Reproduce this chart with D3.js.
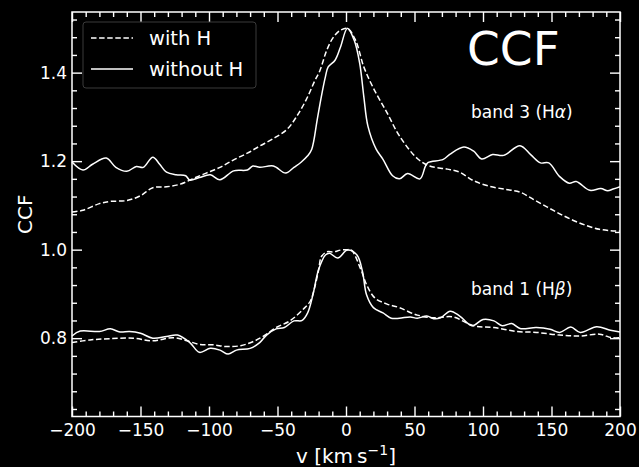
<!DOCTYPE html>
<html>
<head>
<meta charset="utf-8">
<script src="https://cdn.jsdelivr.net/npm/d3@7"></script>
<style>
  html, body { margin: 0; padding: 0; background: #000; }
  svg { display: block; }
  text { font-family: "DejaVu Sans", sans-serif; fill: #fff; }
</style>
</head>
<body>
<svg id="chart" width="639" height="467"></svg>
<script>
// Velocity grid (km/s) and CCF values per band and template
const vBand3NoH = [-200,-192,-185,-175,-168,-160,-153,-148,-141,-136,-131,-124,-117,-114,-107,-99,-92,-82,-72,-68,-63,-53,-44,-38,-33,-28,-25,-21,-18,-15,-13,-8,-4,1,6,10,13,16,22,27,34,39,45,54,58,60,71,76,86,93,99,107,115,127,135,142,148,156,163,168,178,186,191,195,200];
const ccfBand3NoH = [1.198,1.180,1.193,1.207,1.186,1.177,1.188,1.186,1.209,1.193,1.175,1.169,1.167,1.157,1.163,1.169,1.158,1.178,1.180,1.189,1.186,1.189,1.173,1.186,1.197,1.212,1.227,1.294,1.346,1.391,1.413,1.428,1.458,1.500,1.473,1.421,1.346,1.279,1.227,1.204,1.167,1.160,1.172,1.160,1.189,1.197,1.204,1.216,1.232,1.223,1.205,1.215,1.213,1.235,1.214,1.196,1.196,1.165,1.150,1.154,1.134,1.138,1.133,1.137,1.142];

const vBand3H = [-200,-192,-180,-172,-160,-150,-141,-131,-121,-112,-102,-92,-82,-72,-63,-53,-43,-36,-29,-23,-19,-14,-9,-4,1,7,13,20,30,39,52,61,74,83,93,105,117,127,137,147,156,166,176,185,193,200];
const ccfBand3H = [1.085,1.089,1.104,1.109,1.111,1.122,1.140,1.142,1.148,1.160,1.173,1.186,1.203,1.218,1.234,1.251,1.272,1.301,1.339,1.380,1.405,1.451,1.481,1.496,1.500,1.473,1.413,1.365,1.309,1.257,1.206,1.189,1.182,1.175,1.156,1.143,1.136,1.130,1.113,1.096,1.081,1.066,1.054,1.046,1.043,1.042];

const vBand1NoH = [-200,-194,-180,-172,-165,-158,-150,-141,-131,-123,-114,-107,-99,-92,-86,-80,-70,-63,-58,-51,-45,-38,-32,-28,-24,-20,-15,-12,-6,1,8,12,15,20,27,33,39,47,52,59,64,69,76,83,92,100,108,114,121,127,139,149,156,164,171,183,193,200];
const ccfBand1NoH = [0.805,0.816,0.815,0.821,0.814,0.815,0.811,0.800,0.804,0.807,0.790,0.768,0.777,0.773,0.764,0.773,0.777,0.790,0.807,0.821,0.824,0.839,0.840,0.857,0.900,0.955,0.988,0.992,0.981,0.999,0.988,0.951,0.898,0.869,0.857,0.845,0.845,0.848,0.845,0.850,0.844,0.846,0.861,0.850,0.828,0.842,0.839,0.828,0.833,0.822,0.824,0.820,0.813,0.825,0.813,0.826,0.818,0.814];

const vBand1H = [-200,-187,-172,-155,-141,-126,-116,-107,-97,-87,-77,-68,-60,-51,-41,-31,-26,-23,-20,-18,-14,-9,-4,1,4,11,15,21,30,39,52,64,78,93,108,125,139,156,171,185,194,200];
const ccfBand1H = [0.790,0.796,0.799,0.800,0.794,0.801,0.794,0.786,0.785,0.781,0.783,0.792,0.805,0.824,0.839,0.866,0.884,0.913,0.954,0.984,0.995,0.995,0.999,1.000,0.999,0.954,0.921,0.891,0.877,0.869,0.852,0.846,0.848,0.828,0.824,0.815,0.813,0.807,0.805,0.809,0.801,0.801];

const xTicks = [-200,-150,-100,-50,0,50,100,150,200];
const yTicks = [0.8,1.0,1.2,1.4];
const legendLabels = ["with H", "without H"];

const svg = d3.select("#chart");
const W = 639, H = 467;
svg.append("rect").attr("width", W).attr("height", H).attr("fill", "#000");

const mLeft = 72, mRight = 620, mTop = 12, mBottom = 416.5;
const x = d3.scaleLinear().domain([-200, 200]).range([mLeft, mRight]);
const y = d3.scaleLinear().domain([0.623, 1.537]).range([mBottom, mTop]);

const fmtY = d3.format(".1f");
const fmtX = d => (d < 0 ? "\u2212" + Math.abs(d) : String(d));

const xMinor = d3.range(-200, 201, 10).filter(v => !xTicks.includes(v));
const yMinor = d3.range(0.64, 1.53, 0.04).map(v => +v.toFixed(2)).filter(v => !yTicks.some(t => Math.abs(t - v) < 1e-6));

function styleAxis(g) {
  g.select(".domain").remove();
  g.selectAll(".tick line").attr("stroke", "#fff").attr("stroke-width", 1.4);
  g.selectAll(".tick text").attr("fill", "#fff").style("font-size", "17px").style("font-family", "DejaVu Sans");
}

// bottom
svg.append("g").attr("transform", `translate(0,${mBottom})`)
  .call(d3.axisBottom(x).tickValues(xTicks).tickFormat(fmtX).tickSize(-10).tickPadding(7)).call(styleAxis);
svg.append("g").attr("transform", `translate(0,${mBottom})`)
  .call(d3.axisBottom(x).tickValues(xMinor).tickFormat("").tickSize(-5)).call(styleAxis);
// top
svg.append("g").attr("transform", `translate(0,${mTop})`)
  .call(d3.axisTop(x).tickValues(xTicks).tickFormat("").tickSize(-10)).call(styleAxis);
svg.append("g").attr("transform", `translate(0,${mTop})`)
  .call(d3.axisTop(x).tickValues(xMinor).tickFormat("").tickSize(-5)).call(styleAxis);
// left
svg.append("g").attr("transform", `translate(${mLeft},0)`)
  .call(d3.axisLeft(y).tickValues(yTicks).tickFormat(fmtY).tickSize(-10).tickPadding(5)).call(styleAxis);
svg.append("g").attr("transform", `translate(${mLeft},0)`)
  .call(d3.axisLeft(y).tickValues(yMinor).tickFormat("").tickSize(-5)).call(styleAxis);
// right
svg.append("g").attr("transform", `translate(${mRight},0)`)
  .call(d3.axisRight(y).tickValues(yTicks).tickFormat("").tickSize(-10)).call(styleAxis);
svg.append("g").attr("transform", `translate(${mRight},0)`)
  .call(d3.axisRight(y).tickValues(yMinor).tickFormat("").tickSize(-5)).call(styleAxis);

// plot frame
svg.append("rect").attr("x", mLeft).attr("y", mTop).attr("width", mRight - mLeft).attr("height", mBottom - mTop)
  .attr("fill", "none").attr("stroke", "#fff").attr("stroke-width", 1.5);

// curves
const line = d3.line().x(d => x(d[0])).y(d => y(d[1])).curve(d3.curveCatmullRom.alpha(0.5));
const series = [
  { v: vBand3H, c: ccfBand3H, dash: "5.5,2.6" },
  { v: vBand3NoH, c: ccfBand3NoH, dash: null },
  { v: vBand1H, c: ccfBand1H, dash: "5.5,2.6" },
  { v: vBand1NoH, c: ccfBand1NoH, dash: null }
];
const plot = svg.append("g");
series.forEach(s => {
  plot.append("path")
    .datum(d3.zip(s.v, s.c))
    .attr("d", line)
    .attr("fill", "none")
    .attr("stroke", "#fff")
    .attr("stroke-width", 1.5)
    .attr("stroke-dasharray", s.dash);
});

// legend
const lg = svg.append("g");
lg.append("rect").attr("x", 83).attr("y", 22).attr("width", 173).attr("height", 66).attr("rx", 3)
  .attr("fill", "#000").attr("stroke", "#3a3a3a").attr("stroke-width", 1);
legendLabels.forEach((lab, i) => {
  const cy = 38 + i * 31;
  lg.append("line").attr("x1", 91).attr("x2", 133).attr("y1", cy).attr("y2", cy)
    .attr("stroke", "#fff").attr("stroke-width", 1.5).attr("stroke-dasharray", i === 0 ? "5.5,2.6" : null);
  lg.append("text").attr("x", 149).attr("y", cy + 7).style("font-size", "19.5px").text(lab);
});

// annotations
svg.append("text").attr("x", 467).attr("y", 65).style("font-size", "47px").text("CCF");
const b3 = svg.append("text").attr("x", 471).attr("y", 118).style("font-size", "17px");
b3.append("tspan").text("band 3 (H");
b3.append("tspan").style("font-style", "italic").text("\u03B1");
b3.append("tspan").text(")");
const b1 = svg.append("text").attr("x", 471).attr("y", 295).style("font-size", "17px");
b1.append("tspan").text("band 1 (H");
b1.append("tspan").style("font-style", "italic").text("\u03B2");
b1.append("tspan").text(")");

// axis titles
svg.append("text").attr("transform", `translate(32,${(mTop + mBottom) / 2}) rotate(-90)`)
  .attr("text-anchor", "middle").style("font-size", "20px").text("CCF");
const xl = svg.append("text").attr("x", (mLeft + mRight) / 2).attr("y", 463).attr("text-anchor", "middle").style("font-size", "20px");
xl.append("tspan").text("v [km\u2009s");
xl.append("tspan").attr("dy", -8).style("font-size", "14px").text("\u22121");
xl.append("tspan").attr("dy", 8).text("]");
</script>
</body>
</html>
